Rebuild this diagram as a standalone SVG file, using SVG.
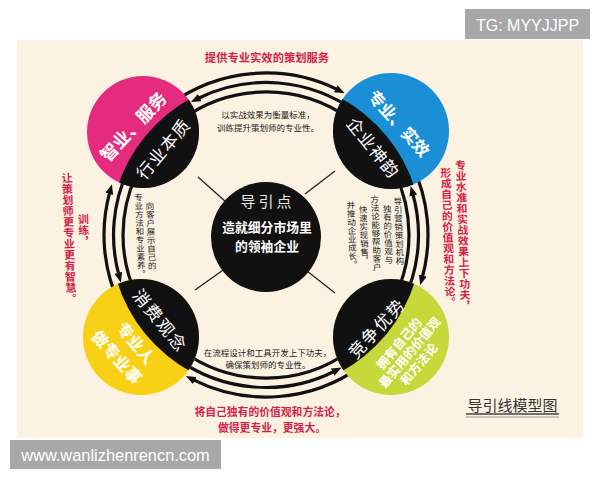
<svg xmlns="http://www.w3.org/2000/svg" width="600" height="480" viewBox="0 0 600 480">
<style>
.cn{font-family:"Noto Sans CJK SC","Noto Sans CJK JP",sans-serif}
.red{fill:#d0234b;font-weight:bold}
.sm{fill:#222;font-size:8.5px}
.vt{writing-mode:vertical-rl}
.arc{fill:none;stroke:#111;stroke-width:3.2}
.spoke{stroke:#222;stroke-width:1.3}
.wb{fill:#fff;font-weight:bold}
.wr{fill:#fff;font-weight:normal}
.lbl{font-family:"Liberation Sans",Arial,sans-serif;fill:#fff}
</style>
<defs>
<marker id="ah" viewBox="0 0 10 8" refX="2" refY="4" markerWidth="10" markerHeight="8" markerUnits="userSpaceOnUse" orient="auto">
<path d="M0,0 L10,4 L0,8 z" fill="#111"/>
</marker>
<clipPath id="inring"><circle cx="266" cy="235" r="156"/></clipPath>
</defs>
<rect width="600" height="480" fill="#fff"/>
<rect x="17" y="40" width="566" height="398" fill="#fcf2e2"/>

<g id="connectors">
<path class="arc" d="M170.8,103.9 A162,162 0 0 1 337.5,89.6" marker-end="url(#ah)"/>
<path class="arc" d="M355.6,111.6 A152.5,152.5 0 0 0 198.0,98.5" marker-end="url(#ah)"/>
<path class="arc" d="M181.9,119.3 A143,143 0 0 1 350.1,119.3"/>
<path class="arc" d="M411.6,164.0 A162,162 0 0 1 422.3,277.5" marker-end="url(#ah)"/>
<path class="arc" d="M404.2,299.4 A152.5,152.5 0 0 0 412.8,193.7" marker-end="url(#ah)"/>
<path class="arc" d="M394.5,172.3 A143,143 0 0 1 395.6,295.4"/>
<path class="arc" d="M361.2,366.1 A162,162 0 0 1 193.0,379.6" marker-end="url(#ah)"/>
<path class="arc" d="M176.4,358.4 A152.5,152.5 0 0 0 334.5,371.2" marker-end="url(#ah)"/>
<path class="arc" d="M350.1,350.7 A143,143 0 0 1 181.9,350.7"/>
<path class="arc" d="M119.2,303.5 A162,162 0 0 1 109.8,192.0" marker-end="url(#ah)"/>
<path class="arc" d="M127.8,170.6 A152.5,152.5 0 0 0 118.8,274.7" marker-end="url(#ah)"/>
<path class="arc" d="M136.4,295.4 A143,143 0 0 1 136.4,174.6"/>
<line class="spoke" x1="226" y1="202" x2="198" y2="177"/>
<line class="spoke" x1="305" y1="194" x2="335" y2="171"/>
<line class="spoke" x1="226" y1="268" x2="195" y2="290"/>
<line class="spoke" x1="307" y1="271" x2="335" y2="293"/>
</g>

<g id="node-center" class="cn">
<circle cx="266" cy="237" r="55" fill="#111"/>
<text x="267.5" y="207" font-size="15" letter-spacing="3" fill="#e6e6e6" text-anchor="middle">导引点</text>
<text class="wb" x="267" y="231.5" font-size="12.8" text-anchor="middle">造就细分市场里</text>
<text class="wb" x="267" y="250.5" font-size="12.8" text-anchor="middle">的领袖企业</text>
</g>

<g id="node-tl" class="cn">
<circle cx="143" cy="132" r="56" fill="#e42b7d"/>
<circle cx="143" cy="132" r="56" fill="#111" clip-path="url(#inring)"/>
<g transform="translate(132.5,126) rotate(-47)"><text class="wb" font-size="17.5" text-anchor="middle" dominant-baseline="central">智业、服务</text></g>
<g transform="translate(162.5,148) rotate(-50)"><text class="wr" font-size="17" letter-spacing="1.2" text-anchor="middle" dominant-baseline="central">行业本质</text></g>
</g>

<g id="node-tr" class="cn">
<circle cx="391" cy="131" r="58" fill="#1a8fd6"/>
<circle cx="391" cy="131" r="58" fill="#111" clip-path="url(#inring)"/>
<g transform="translate(399.5,123) rotate(48)"><text class="wb" font-size="16.5" text-anchor="middle" dominant-baseline="central">专业、实效</text></g>
<g transform="translate(374,147) rotate(51)"><text class="wr" font-size="17" letter-spacing="1" text-anchor="middle" dominant-baseline="central">企业神韵</text></g>
</g>

<g id="node-bl" class="cn">
<circle cx="141" cy="337" r="58" fill="#f8d116"/>
<circle cx="141" cy="337" r="58" fill="#111" clip-path="url(#inring)"/>
<g transform="translate(161,320) rotate(51)"><text class="wr" font-size="17" letter-spacing="1.8" text-anchor="middle" dominant-baseline="central">消费观念</text></g>
<g transform="translate(136.5,342.5) rotate(50)"><text class="wb" font-size="16" text-anchor="middle" dominant-baseline="central">专业人</text></g>
<g transform="translate(117.5,356.5) rotate(48)"><text class="wb" font-size="16.3" text-anchor="middle" dominant-baseline="central">做专业事</text></g>
</g>

<g id="node-br" class="cn">
<circle cx="391" cy="337" r="58" fill="#c6d83a"/>
<circle cx="391" cy="337" r="58" fill="#111" clip-path="url(#inring)"/>
<g transform="translate(376,327.5) rotate(-47)"><text class="wr" font-size="17" letter-spacing="1.5" text-anchor="middle" dominant-baseline="central">竞争优势</text></g>
<g transform="translate(409,352) rotate(-50)">
<text class="wb" x="0" y="-14" font-size="12.5" text-anchor="middle" dominant-baseline="central">拥有自己的</text>
<text class="wb" x="0" y="0" font-size="12.5" text-anchor="middle" dominant-baseline="central">最实用的价值观</text>
<text class="wb" x="-3" y="14.5" font-size="12.5" text-anchor="middle" dominant-baseline="central">和方法论</text>
</g>
</g>

<g id="texts" class="cn">
<text class="red" x="267" y="62" font-size="11.3" text-anchor="middle">提供专业实效的策划服务</text>
<text class="sm" x="268" y="118" text-anchor="middle">以实战效果为衡量标准，</text>
<text class="sm" x="268" y="131" text-anchor="middle">训练提升策划师的专业性。</text>
<text class="sm" x="267.5" y="355.5" font-size="8.6" text-anchor="middle">在流程设计和工具开发上下功夫，</text>
<text class="sm" x="268" y="368" text-anchor="middle">确保策划师的专业性。</text>
<text class="red" x="270" y="416" font-size="10.8" text-anchor="middle">将自己独有的价值观和方法论，</text>
<text class="red" x="272" y="432" font-size="10.8" text-anchor="middle">做得更专业，更强大。</text>
<g transform="rotate(-2 76 235)">
<text class="red vt" x="84" y="214" font-size="11">训练，</text>
<text class="red vt" x="69" y="172" font-size="11">让策划师更专业更有智慧。</text>
</g>
<g transform="rotate(-2 455 235)">
<text class="red vt" x="463" y="160" font-size="10.8">专业水准和实战效果上下功夫，</text>
<text class="red vt" x="448" y="167" font-size="10.8">形成自己的价值观和方法论。</text>
</g>
<g transform="rotate(-2 146 235)">
<text class="sm vt" x="151" y="202">向客户展示自己的</text>
<text class="sm vt" x="140" y="193">专业方法和专业素养。</text>
</g>
<g transform="rotate(-2 376 235)">
<text class="sm vt" x="399" y="198">导引营销策划机构</text>
<text class="sm vt" x="388" y="205">独有的价值观与</text>
<text class="sm vt" x="376" y="195">方法论能够帮助客户</text>
<text class="sm vt" x="364" y="205">快速实现销售，</text>
<text class="sm vt" x="352" y="200">并推动企业成长。</text>
</g>
<text x="512.5" y="411" font-size="15" fill="#333" text-anchor="middle">导引线模型图</text>
<line x1="466" y1="414" x2="559" y2="414" stroke="#444" stroke-width="1.5"/>
<line x1="466" y1="417" x2="559" y2="417" stroke="#999" stroke-width="1"/>
</g>

<g id="labels">
<rect x="465" y="9" width="125" height="30" fill="#a8a8a8"/>
<text class="lbl" x="527.5" y="31" font-size="16" text-anchor="middle">TG: MYYJJPP</text>
<rect x="10" y="440" width="211" height="29" fill="#a8a8a8"/>
<text class="lbl" x="115.5" y="461" font-size="16.4" text-anchor="middle">www.wanlizhenrencn.com</text>
</g>
</svg>
